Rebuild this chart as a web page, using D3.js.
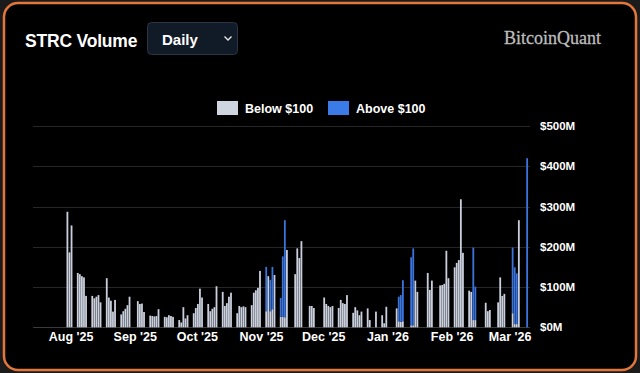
<!DOCTYPE html>
<html>
<head>
<meta charset="utf-8">
<script src="https://cdn.jsdelivr.net/npm/d3@7"></script>
<style>
  html, body { margin: 0; padding: 0; background: #1b1b1b; }
  svg { display: block; }
</style>
</head>
<body>
<script>
/* daily STRC volume, $M, split by price below / above $100 */
var dates = [
  '2025-07-30','2025-07-31','2025-08-01',
  '2025-08-04','2025-08-05','2025-08-06','2025-08-07','2025-08-08',
  '2025-08-11','2025-08-12','2025-08-13','2025-08-14','2025-08-15',
  '2025-08-18','2025-08-19','2025-08-20','2025-08-21','2025-08-22',
  '2025-08-25','2025-08-26','2025-08-27','2025-08-28','2025-08-29',
  '2025-09-02','2025-09-03','2025-09-04','2025-09-05',
  '2025-09-08','2025-09-09','2025-09-10','2025-09-11','2025-09-12',
  '2025-09-15','2025-09-16','2025-09-17','2025-09-18','2025-09-19',
  '2025-09-22','2025-09-23','2025-09-24','2025-09-25','2025-09-26',
  '2025-09-29','2025-09-30','2025-10-01','2025-10-02','2025-10-03',
  '2025-10-06','2025-10-07','2025-10-08','2025-10-09','2025-10-10',
  '2025-10-13','2025-10-14','2025-10-15','2025-10-16','2025-10-17',
  '2025-10-20','2025-10-21','2025-10-22','2025-10-23','2025-10-24',
  '2025-10-27','2025-10-28','2025-10-29','2025-10-30','2025-10-31',
  '2025-11-03','2025-11-04','2025-11-05','2025-11-06','2025-11-07',
  '2025-11-10','2025-11-11','2025-11-12','2025-11-13',
  '2025-11-17','2025-11-18','2025-11-19','2025-11-20',
  '2025-11-24','2025-11-25','2025-11-26',
  '2025-12-01','2025-12-02','2025-12-03','2025-12-04','2025-12-05',
  '2025-12-08','2025-12-09','2025-12-10','2025-12-11','2025-12-12',
  '2025-12-15','2025-12-16','2025-12-17','2025-12-18','2025-12-19',
  '2025-12-22','2025-12-23','2025-12-26',
  '2025-12-29','2025-12-30','2025-12-31',
  '2026-01-05','2026-01-06','2026-01-07','2026-01-08',
  '2026-01-12','2026-01-13','2026-01-14','2026-01-15',
  '2026-01-20','2026-01-21','2026-01-22',
  '2026-01-26','2026-01-27','2026-01-28','2026-01-29','2026-01-30',
  '2026-02-02','2026-02-03','2026-02-04','2026-02-05','2026-02-06',
  '2026-02-09','2026-02-10','2026-02-11','2026-02-12',
  '2026-02-17','2026-02-18','2026-02-19',
  '2026-02-23','2026-02-24','2026-02-25','2026-02-26',
  '2026-03-02','2026-03-03','2026-03-04','2026-03-05',
  '2026-03-09'
];
var below = [
  287,186,253,
  135,132,127,124,78,
  78,72,76,80,62,
  122,74,66,39,68,
  32,40,46,55,76,
  65,58,59,38,
  29,28,27,28,45,
  26,25,30,28,26,
  18,12,50,22,30,
  35,48,58,96,74,
  58,40,46,50,102,
  88,53,60,76,86,
  35,53,50,52,50,
  55,86,92,98,140,
  40,127,40,45,130,
  26,26,25,192,
  132,196,172,214,
  53,53,48,
  74,58,53,50,53,
  48,68,60,58,80,
  36,50,42,30,39,
  47,18,39,
  30,10,51,
  47,15,14,15,
  5,5,116,88,
  135,93,116,
  104,105,108,190,122,
  149,160,167,318,185,
  91,88,18,18,
  61,40,43,
  62,124,78,83,
  35,8,8,266,
  0
];
var above = [
  0,0,0,
  0,0,0,0,0,
  0,0,0,0,0,
  0,0,0,0,0,
  0,0,0,0,0,
  0,0,0,0,
  0,0,0,0,0,
  0,0,0,0,0,
  0,0,0,0,0,
  0,0,0,0,0,
  0,0,0,0,0,
  0,0,0,0,0,
  0,0,0,0,0,
  0,0,0,0,0,
  110,0,78,105,0,
  47,150,241,0,
  0,0,0,0,
  0,0,0,
  0,0,0,0,0,
  0,0,0,0,0,
  0,0,0,0,0,
  0,0,0,
  0,0,0,
  0,61,66,102,
  169,191,0,0,
  0,0,0,
  0,0,0,0,0,
  0,0,0,0,0,
  0,0,180,83,
  0,0,0,
  0,0,0,0,
  163,141,126,0,
  420
];
var yTicks = [0, 100, 200, 300, 400, 500];
var monthTicks = ['2025-08-01','2025-09-01','2025-10-01','2025-11-01','2025-12-01','2026-01-01','2026-02-01','2026-03-01'];
var seriesNames = ['Below $100', 'Above $100'];
var seriesColors = ['#c9cfdc', '#3a74dc'];

var W = 640, H = 373;
var parse = d3.timeParse('%Y-%m-%d');
var rows = dates.map(function (d, i) { return { date: parse(d), below: below[i], above: above[i] }; });

var svg = d3.select('body').append('svg')
  .attr('width', W)
  .attr('height', H);

/* card */
svg.append('rect')
  .attr('x', 4).attr('y', 3)
  .attr('width', W - 8).attr('height', H - 6)
  .attr('rx', 14)
  .attr('fill', '#000')
  .attr('stroke', '#e3763a')
  .attr('stroke-width', 2.5);

var font = 'Liberation Sans, Arial, Helvetica, sans-serif';

/* title + dropdown */
svg.append('text')
  .attr('x', 25).attr('y', 47)
  .attr('fill', '#fff')
  .attr('font-family', font).attr('font-weight', 'bold').attr('font-size', 17.5)
  .attr('letter-spacing', -0.2)
  .text('STRC Volume');

svg.append('rect')
  .attr('x', 147.5).attr('y', 22.5)
  .attr('width', 90).attr('height', 32)
  .attr('rx', 4)
  .attr('fill', '#111a27')
  .attr('stroke', '#2c3546');

svg.append('text')
  .attr('x', 162).attr('y', 45)
  .attr('fill', '#fff')
  .attr('font-family', font).attr('font-weight', 'bold').attr('font-size', 15)
  .text('Daily');

svg.append('path')
  .attr('d', 'M224.5,36.5 L228,40 L231.5,36.5')
  .attr('fill', 'none')
  .attr('stroke', '#e6e6e6')
  .attr('stroke-width', 1.4);

svg.append('text')
  .attr('x', 601).attr('y', 44)
  .attr('text-anchor', 'end')
  .attr('fill', '#bcbcbc')
  .attr('font-family', 'Liberation Serif, DejaVu Serif, serif').attr('font-size', 18)
  .attr('stroke', '#bcbcbc').attr('stroke-width', 0.3)
  .text('BitcoinQuant');

/* scales */
var x = d3.scaleTime()
  .domain([parse('2025-07-13'), parse('2026-03-10')])
  .range([32.2, 529.2]);

var y = d3.scaleLinear()
  .domain([0, 500])
  .range([327.3, 126]);

/* gridlines */
svg.append('g')
  .selectAll('line')
  .data(yTicks)
  .join('line')
  .attr('x1', 33).attr('x2', 530)
  .attr('y1', function (d) { return Math.round(y(d)) + 0.5; })
  .attr('y2', function (d) { return Math.round(y(d)) + 0.5; })
  .attr('stroke', function (d) { return d === 0 ? '#3a3a3a' : '#262626'; })
  .attr('stroke-width', 1);

/* right axis labels */
var yAxis = d3.axisRight(y)
  .tickValues(yTicks)
  .tickSize(0)
  .tickPadding(0)
  .tickFormat(function (d) { return '$' + d + 'M'; });
var yg = svg.append('g')
  .attr('transform', 'translate(540,0)')
  .call(yAxis);
yg.select('.domain').remove();
yg.selectAll('text')
  .attr('fill', '#fff')
  .attr('font-family', font).attr('font-weight', 'bold').attr('font-size', 11.5);

/* bottom axis labels */
var xAxis = d3.axisBottom(x)
  .tickValues(monthTicks.map(parse))
  .tickSize(0)
  .tickPadding(0)
  .tickFormat(d3.timeFormat("%b '%y"));
var xg = svg.append('g')
  .attr('transform', 'translate(-1,332)')
  .call(xAxis);
xg.select('.domain').remove();
xg.selectAll('text')
  .attr('fill', '#fff')
  .attr('font-family', font).attr('font-weight', 'bold').attr('font-size', 12.5);

/* stacked bars */
var stack = d3.stack().keys(['below', 'above']);
var layers = stack(rows);
var bw = 1.8;

svg.append('g')
  .selectAll('g')
  .data(layers)
  .join('g')
  .attr('fill', function (d, i) { return seriesColors[i]; })
  .selectAll('rect')
  .data(function (d) { return d.filter(function (p) { return p[1] > p[0]; }); })
  .join('rect')
  .attr('x', function (d) { return x(d.data.date) - bw / 2; })
  .attr('y', function (d) { return y(d[1]); })
  .attr('width', bw)
  .attr('height', function (d) { return y(d[0]) - y(d[1]); });

/* legend */
var legend = svg.append('g').attr('transform', 'translate(217,101)');
var items = [0, 111];
seriesNames.forEach(function (name, i) {
  var g = legend.append('g').attr('transform', 'translate(' + items[i] + ',0)');
  g.append('rect')
    .attr('width', 21).attr('height', 14)
    .attr('fill', i === 0 ? '#cfd5e0' : '#3a7be8');
  g.append('text')
    .attr('x', 28).attr('y', 12)
    .attr('fill', '#fff')
    .attr('font-family', font).attr('font-weight', 'bold').attr('font-size', 12.5)
    .text(name);
});
</script>
</body>
</html>
